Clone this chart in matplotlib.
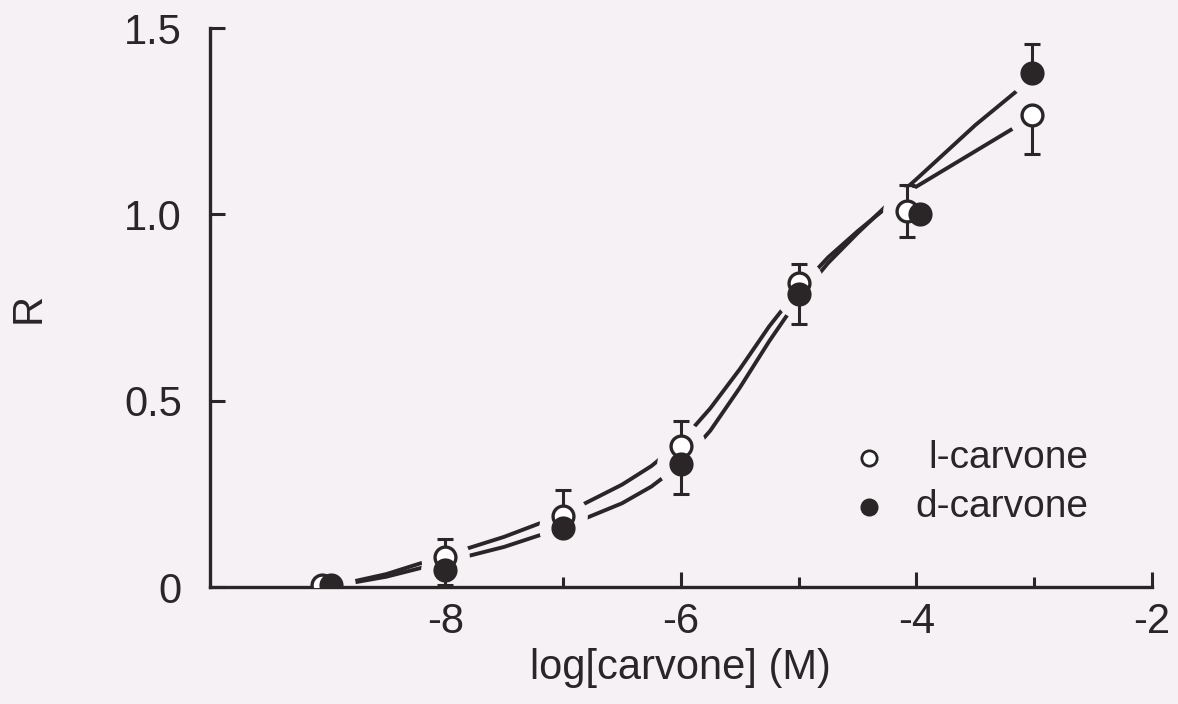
import matplotlib
matplotlib.use("Agg")
import matplotlib.pyplot as plt

plt.rcParams['font.family'] = ['Liberation Sans', 'DejaVu Sans']
plt.rcParams['axes.unicode_minus'] = False

# data points
l_x = [-9.05, -8, -7, -6, -5, -4.08, -3.02]
l_y = [0.005, 0.08, 0.19, 0.38, 0.815, 1.01, 1.267]
l_lo = [0, 0, 0, 0, 0, 0.07, 0.105]
l_hi = [0, 0.05, 0.07, 0.065, 0.053, 0.07, 0]

d_x = [-8.97, -8, -7, -6, -5, -3.97, -3.02]
d_y = [0.005, 0.045, 0.16, 0.33, 0.787, 1.0, 1.38]
d_lo = [0, 0.04, 0, 0.08, 0.08, 0, 0]
d_hi = [0, 0, 0, 0, 0, 0, 0.078]

# fitted curves
curve_x = [-9, -8.5, -8, -7.5, -7, -6.5, -6.25, -6, -5.75, -5.5, -5.25, -5,
           -4.75, -4.5, -4.25, -4, -3.5, -3]
curve_l = [0.0, 0.035, 0.085, 0.135, 0.195, 0.275, 0.325, 0.39, 0.48, 0.585, 0.70, 0.80,
           0.885, 0.955, 1.02, 1.075, 1.17, 1.265]
curve_d = [0.0, 0.028, 0.068, 0.108, 0.16, 0.225, 0.27, 0.33, 0.42, 0.535, 0.66, 0.775,
           0.87, 0.95, 1.025, 1.095, 1.24, 1.37]

labels = ['l-carvone', 'd-carvone']

ink = '#2a2628'
bg = '#f6f1f5'

fig = plt.figure(figsize=(11.78, 7.04), dpi=100, facecolor=bg)
ax = fig.add_axes([0.178, 0.166, 0.80, 0.794])
ax.set_facecolor(bg)

# curves
ax.plot(curve_x, curve_l, color=ink, lw=2.8, zorder=1, solid_capstyle='butt')
ax.plot(curve_x, curve_d, color=ink, lw=2.8, zorder=1, solid_capstyle='butt')

# gaps in the curves around the markers
ax.plot(l_x, l_y, 'o', ms=34, mfc=bg, mec=bg, zorder=2)
ax.plot(d_x, d_y, 'o', ms=34, mfc=bg, mec=bg, zorder=2)

# error bars
ax.errorbar(l_x, l_y, yerr=[l_lo, l_hi], fmt='none', ecolor=ink, elinewidth=2.2,
            capsize=5.5, capthick=2.2, zorder=3)
ax.errorbar(d_x, d_y, yerr=[d_lo, d_hi], fmt='none', ecolor=ink, elinewidth=2.2,
            capsize=5.5, capthick=2.2, zorder=3)

# markers
ax.plot(l_x, l_y, 'o', ms=15, mfc='white', mec=ink, mew=2.4, zorder=4)
ax.plot(d_x, d_y, 'o', ms=15, mfc=ink, mec=ink, mew=2.4, zorder=5)

ax.set_xlim(-10, -2)
ax.set_ylim(0, 1.5)
ax.spines['top'].set_visible(False)
ax.spines['right'].set_visible(False)
for s in ['left', 'bottom']:
    ax.spines[s].set_linewidth(2.4)
    ax.spines[s].set_color(ink)

ax.set_xticks([-8, -6, -4, -2])
ax.set_xticks([-7, -5, -3], minor=True)
ax.set_yticks([0, 0.5, 1.0, 1.5])
ax.set_yticklabels(['0', '0.5', '1.0', '1.5'])
ax.tick_params(axis='x', which='major', direction='in', length=11, width=2.2,
               color=ink, labelsize=30, pad=11, labelcolor=ink)
ax.tick_params(axis='x', which='minor', direction='in', length=7, width=2.2, color=ink)
ax.tick_params(axis='y', direction='in', length=11, width=2.2, color=ink,
               labelsize=30, pad=20, labelcolor=ink)

ax.set_xlabel('log[carvone] (M)', fontsize=30, color=ink, labelpad=4)
ax.set_ylabel('R', fontsize=30, color=ink, labelpad=54)

# legend: markers on the left, labels right-aligned
ax.plot(0.70, 0.231, 'o', ms=11, mfc='white', mec=ink, mew=2, transform=ax.transAxes, clip_on=False)
ax.plot(0.70, 0.143, 'o', ms=11, mfc=ink, mec=ink, mew=2, transform=ax.transAxes, clip_on=False)
ax.text(0.932, 0.231, labels[0], ha='right', va='center', fontsize=28, color=ink,
        transform=ax.transAxes)
ax.text(0.932, 0.143, labels[1], ha='right', va='center', fontsize=28, color=ink,
        transform=ax.transAxes)

fig.savefig('out.png', dpi=100, facecolor=bg)
